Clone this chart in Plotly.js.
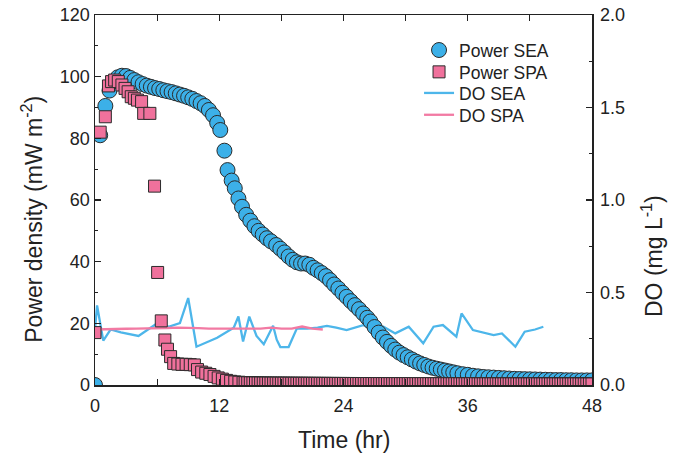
<!DOCTYPE html>
<html>
<head>
<meta charset="utf-8">
<script src="https://cdn.plot.ly/plotly-3.0.1.min.js"></script>
<style>html,body{margin:0;padding:0;background:#fff;}#chart{width:678px;height:458px;}</style>
</head>
<body>
<div id="chart"></div>
<script>
// Power density SEA (mW m-2)
const seaTime = [0,0.5,1.0,1.4,1.8,2.2,2.6,3.0,3.4,3.8,4.2,4.6,5.0,5.4,5.8,6.2,6.6,7.0,7.4,7.8,8.2,8.6,9.0,9.4,9.8,10.2,10.6,11.0,11.4,11.8,12.1,12.5,12.8,13.2,13.5,13.85,14.2,14.6,15.0,15.4,15.8,16.2,16.6,17.0,17.5,17.9,18.3,18.7,19.1,19.5,19.9,20.3,20.7,21.1,21.5,21.9,22.3,22.7,23.1,23.5,23.9,24.3,24.7,25.1,25.5,25.9,26.3,26.6,27.0,27.4,27.8,28.2,28.6,29.0,29.4,29.8,30.2,30.6,31.0,31.4,31.8,32.2,32.6,33.0,33.4,33.8,34.2,34.6,35.0,35.5,36.0,36.5,37.0,37.5,38.0,38.5,39.0,39.5,40.0,40.5,41.0,41.5,42.0,42.5,43.0,43.5,44.0,44.5,45.0,45.5,46.0,46.5,47.0,47.5,48.0];
const seaPower = [0,81,90.5,95.5,98.5,99.8,100.3,100.2,99.6,98.9,98.2,97.6,97.1,96.7,96.3,96.0,95.6,95.3,95.0,94.6,94.2,93.8,93.3,92.8,92.1,91.4,90.5,89.2,87.5,85.0,82.7,76.0,69.7,66.3,63.8,60.5,57.8,55.2,53.3,51.5,50.0,48.8,47.6,46.6,45.4,44.2,43.0,41.7,40.6,39.8,39.4,39.4,39.0,38.0,37.2,36.3,35.3,34.0,32.6,31.3,29.9,28.6,27.2,25.9,24.6,23.2,21.8,20.6,18.8,17.0,15.4,14.0,12.7,11.5,10.5,9.7,9.0,8.3,7.6,7.0,6.5,6.0,5.6,5.3,5.0,4.7,4.4,4.1,3.8,3.5,3.3,3.0,2.8,2.6,2.5,2.4,2.3,2.2,2.1,2.0,1.95,1.9,1.85,1.8,1.75,1.7,1.65,1.6,1.6,1.55,1.55,1.5,1.5,1.5,1.5];

// Power density SPA (mW m-2)
const spaTimeEarly = [0,0.5,1.0,1.3,1.6,1.9,2.25,2.6,2.9,3.2,3.5,3.8,4.1,4.5,4.7,5.3,5.75,6.05,6.4,6.75,7.0,7.3,7.6,8.0,8.4,8.8,9.2,9.6,9.9,10.3,10.7,11.1,11.5,11.9,12.3,12.7,13.1,13.5,13.9,14.3];
const spaPowerEarly = [17,82,87,97,98.4,98.9,98.4,97.3,96.2,95.1,93.5,93.0,92.4,91.9,88.1,88.1,64.5,36.5,20.8,14.6,11.6,9.2,7.0,6.8,6.7,6.7,6.6,6.5,5.0,4.2,3.8,3.4,2.8,2.3,1.9,1.5,1.2,1.0,0.9,0.8];
const spaTimeTail = [14.5,14.75,15,15.25,15.5,15.75,16,16.25,16.5,16.75,17,17.25,17.5,17.75,18,18.25,18.5,18.75,19,19.25,19.5,19.75,20,20.25,20.5,20.75,21,21.25,21.5,21.75,22,22.25,22.5,22.75,23,23.25,23.5,23.75,24,24.25,24.5,24.75,25,25.25,25.5,25.75,26,26.25,26.5,26.75,27,27.25,27.5,27.75,28,28.25,28.5,28.75,29,29.25,29.5,29.75,30,30.25,30.5,30.75,31,31.25,31.5,31.75,32,32.25,32.5,32.75,33,33.25,33.5,33.75,34,34.25,34.5,34.75,35,35.25,35.5,35.75,36,36.25,36.5,36.75,37,37.25,37.5,37.75,38,38.25,38.5,38.75,39,39.25,39.5,39.75,40,40.25,40.5,40.75,41,41.25,41.5,41.75,42,42.25,42.5,42.75,43,43.25,43.5,43.75,44,44.25,44.5,44.75,45,45.25,45.5,45.75,46,46.25,46.5,46.75,47,47.25,47.5,47.75,48];
const spaPowerTail = [0.75,0.72,0.70,0.68,0.66,0.65,0.64,0.63,0.62,0.61,
0.60,0.60,0.59,0.59,0.58,0.58,0.57,0.57,0.56,0.56,
0.55,0.55,0.55,0.54,0.54,0.54,0.53,0.53,0.53,0.52,
0.52,0.52,0.51,0.51,0.51,0.50,0.50,0.50,0.50,0.49,
0.49,0.49,0.49,0.48,0.48,0.48,0.48,0.47,0.47,0.47,
0.47,0.46,0.46,0.46,0.46,0.45,0.45,0.45,0.45,0.45,
0.44,0.44,0.44,0.44,0.44,0.43,0.43,0.43,0.43,0.43,
0.43,0.42,0.42,0.42,0.42,0.42,0.42,0.41,0.41,0.41,
0.41,0.41,0.41,0.40,0.40,0.40,0.40,0.40,0.40,0.40,
0.39,0.39,0.39,0.39,0.39,0.39,0.39,0.38,0.38,0.38,
0.38,0.38,0.38,0.38,0.38,0.37,0.37,0.37,0.37,0.37,
0.37,0.37,0.37,0.36,0.36,0.36,0.36,0.36,0.36,0.36,
0.36,0.35,0.35,0.35,0.35,0.35,0.35,0.35,0.35,0.35,
0.34,0.34,0.34,0.34,0.34];

// Dissolved oxygen (mg L-1)
const doSeaTime = [0,0.2,0.8,1.5,2.5,4.2,5.9,7.1,8.2,9.0,9.8,11.8,13.4,13.85,14.3,14.9,15.6,16.3,17.2,17.55,17.9,18.7,19.5,20.5,21.5,22.4,23.3,24.3,25.9,26.8,27.85,29.0,30.3,31.7,32.7,33.6,34.9,35.4,36.5,37.5,38.5,39.3,40.6,41.5,42.5,43.3];
const doSea = [0.30,0.43,0.24,0.30,0.285,0.265,0.33,0.315,0.335,0.47,0.207,0.255,0.31,0.37,0.235,0.37,0.265,0.22,0.32,0.245,0.205,0.205,0.306,0.305,0.31,0.32,0.31,0.297,0.324,0.315,0.315,0.279,0.315,0.225,0.315,0.324,0.261,0.387,0.297,0.285,0.27,0.279,0.207,0.288,0.30,0.315];
const doSpaTime = [0,1,2,3,4,5,6,7,8,9,10,11,12,13,14,15,16,17,18,19,20,21,22];
const doSpa = [0.30,0.30,0.302,0.304,0.305,0.305,0.307,0.308,0.31,0.31,0.307,0.305,0.305,0.305,0.308,0.305,0.305,0.31,0.305,0.305,0.316,0.305,0.30];

const legendNames = ['Power SEA','Power SPA','DO SEA','DO SPA'];

const spaTime = spaTimeEarly.concat(spaTimeTail);
const spaPower = spaPowerEarly.concat(spaPowerTail);

const blue = '#3CB0E8', pink = '#F0719C', edge = '#2b2b2b';
const fontFam = 'Liberation Sans, Arial, Helvetica, sans-serif';

const traces = [
  {x: seaTime, y: seaPower, name: legendNames[0], type: 'scatter', mode: 'markers', yaxis: 'y2', legend: 'legend',
   marker: {symbol: 'circle', size: 15, color: blue, line: {color: edge, width: 1}}},
  {x: spaTime, y: spaPower, name: legendNames[1], type: 'scatter', mode: 'markers', yaxis: 'y2', legend: 'legend2',
   marker: {symbol: 'square', size: 12, color: pink, line: {color: edge, width: 1}}},
  {x: doSeaTime, y: doSea, name: legendNames[2], type: 'scatter', mode: 'lines', yaxis: 'y', legend: 'legend3',
   line: {color: '#4DB6EA', width: 2.3}},
  {x: doSpaTime, y: doSpa, name: legendNames[3], type: 'scatter', mode: 'lines', yaxis: 'y', legend: 'legend4',
   line: {color: '#F27AA3', width: 2.3}}
];

const axCommon = {
  showline: true, linecolor: '#222', linewidth: 1.5, ticks: 'inside', ticklen: 6, tickwidth: 1.2,
  tickcolor: '#222', showgrid: false, zeroline: false, tickfont: {size: 18, color: '#222', family: fontFam}
};

function leg(yPaper) {
  return {x: 0.652, y: yPaper, xanchor: 'left', yanchor: 'middle', bgcolor: 'rgba(0,0,0,0)',
          borderwidth: 0, font: {size: 17.5, color: '#222', family: fontFam}};
}

const layout = {
  width: 678, height: 458,
  margin: {l: 95, r: 86, t: 15, b: 73, pad: 0},
  paper_bgcolor: '#fff', plot_bgcolor: '#fff',
  font: {family: fontFam, size: 18, color: '#222'},
  showlegend: true,
  legend: leg(0.905), legend2: leg(0.846), legend3: leg(0.789), legend4: leg(0.730),
  xaxis: Object.assign({}, axCommon, {range: [0, 48], tick0: 0, dtick: 12, mirror: 'allticks', ticklabelstandoff: 4,
    minor: {dtick: 6, ticks: 'inside', ticklen: 3, tickcolor: '#222', showgrid: false}}),
  yaxis: Object.assign({}, axCommon, {range: [0, 2], dtick: 0.5, tickformat: '.1f', side: 'right', ticklabelstandoff: 3,
    minor: {dtick: 0.25, ticks: 'inside', ticklen: 3, tickcolor: '#222', showgrid: false}}),
  yaxis2: Object.assign({}, axCommon, {range: [0, 120], dtick: 20, side: 'left', overlaying: 'y',
    minor: {dtick: 10, ticks: 'inside', ticklen: 3, tickcolor: '#222', showgrid: false}}),
  annotations: [
    {text: 'Power density (mW m<sup>-2</sup>)', xref: 'paper', yref: 'paper', x: -0.127, y: 0.449,
     textangle: -90, showarrow: false, font: {size: 23, color: '#222', family: fontFam}, xanchor: 'center', yanchor: 'middle'},
    {text: 'DO (mg L<sup>-1</sup>)', xref: 'paper', yref: 'paper', x: 1.121, y: 0.349,
     textangle: -90, showarrow: false, font: {size: 23, color: '#222', family: fontFam}, xanchor: 'center', yanchor: 'middle'},
    {text: 'Time (hr)', xref: 'paper', yref: 'paper', x: 0.5, y: -0.149,
     showarrow: false, font: {size: 23, color: '#222', family: fontFam}, xanchor: 'center', yanchor: 'middle'}
  ]
};

Plotly.newPlot('chart', traces, layout, {displayModeBar: false, staticPlot: true});
</script>
</body>
</html>
